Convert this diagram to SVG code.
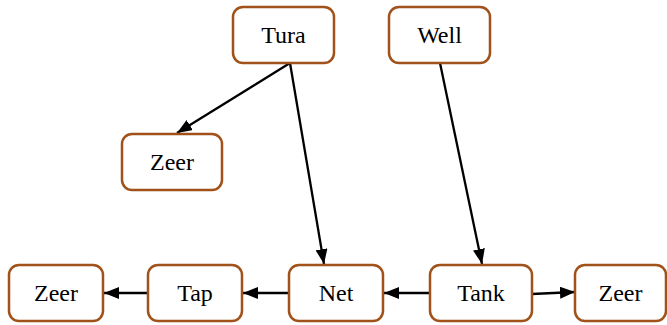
<svg xmlns="http://www.w3.org/2000/svg" width="667" height="325" viewBox="0 0 667 325">
  <style>
    .node rect { fill: #ffffff; stroke: #a0521a; stroke-width: 2.5; }
    .node text { font-family: 'Liberation Serif', 'Times New Roman', 'DejaVu Serif', serif; font-size: 24px; fill: #000; text-anchor: middle; }
    .edge { stroke: #000; stroke-width: 2.3; fill: none; marker-end: url(#arrow); }
  </style>
  <defs>
    <marker id="arrow" viewBox="0 0 15 12" refX="15" refY="6" markerWidth="15" markerHeight="12" markerUnits="userSpaceOnUse" orient="auto">
      <path d="M0,0 L15,6 L0,12 Z" fill="#000"/>
    </marker>
  </defs>

  <g id="connectors">
    <line class="edge" x1="290" y1="63" x2="177" y2="133"/>
    <line class="edge" x1="290" y1="63" x2="324" y2="264"/>
    <line class="edge" x1="440" y1="63" x2="482" y2="264"/>
    <line class="edge" x1="430" y1="293" x2="384" y2="293"/>
    <line class="edge" x1="289" y1="293" x2="243" y2="293"/>
    <line class="edge" x1="148" y1="293" x2="104" y2="293"/>
    <line class="edge" x1="532" y1="294" x2="575" y2="292"/>
  </g>

  <g id="tura" class="node">
    <rect x="233" y="7" width="101" height="56" rx="10"/>
    <text x="283.5" y="43">Tura</text>
  </g>
  <g id="well" class="node">
    <rect x="389" y="7" width="101" height="56" rx="10"/>
    <text x="439.5" y="43">Well</text>
  </g>
  <g id="zeer-upper" class="node">
    <rect x="122" y="134" width="100" height="56" rx="10"/>
    <text x="172" y="170">Zeer</text>
  </g>
  <g id="zeer-left" class="node">
    <rect x="9" y="265" width="94" height="56" rx="10"/>
    <text x="56" y="301">Zeer</text>
  </g>
  <g id="tap" class="node">
    <rect x="148" y="265" width="94" height="56" rx="10"/>
    <text x="195" y="301">Tap</text>
  </g>
  <g id="net" class="node">
    <rect x="289" y="265" width="94" height="56" rx="10"/>
    <text x="336" y="301">Net</text>
  </g>
  <g id="tank" class="node">
    <rect x="430" y="265" width="102" height="56" rx="10"/>
    <text x="481" y="301">Tank</text>
  </g>
  <g id="zeer-right" class="node">
    <rect x="575" y="265" width="91" height="56" rx="10"/>
    <text x="620.5" y="301">Zeer</text>
  </g>
</svg>
